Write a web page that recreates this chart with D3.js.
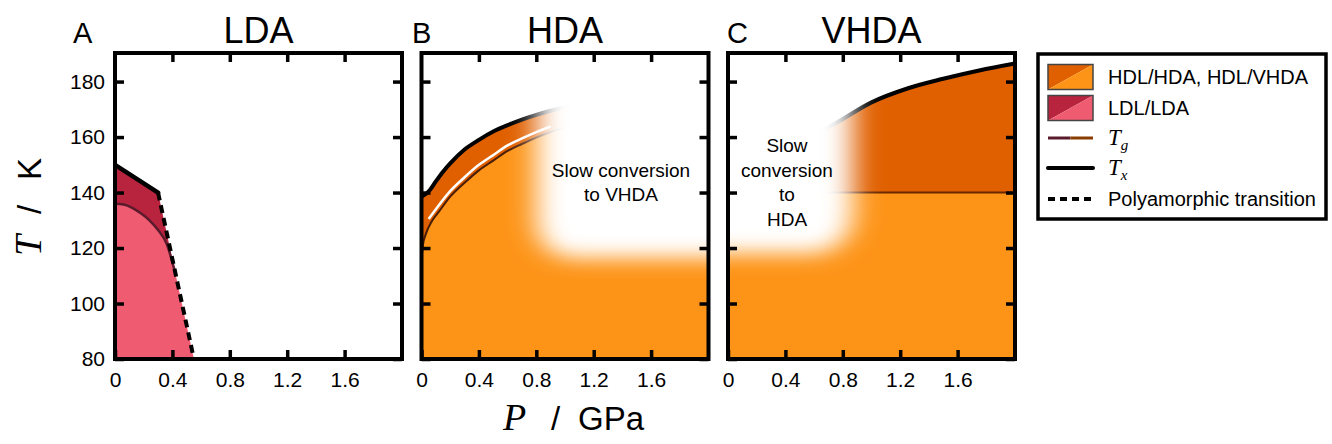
<!DOCTYPE html>
<html>
<head>
<meta charset="utf-8">
<script src="https://cdn.jsdelivr.net/npm/d3@7"></script>
<style>
  body { margin: 0; background: #fff; }
  svg { display: block; font-family: "Liberation Sans", Arial, sans-serif; }
</style>
</head>
<body>
<svg id="chart" width="1332" height="444"></svg>
<script>
// ---- data ----
const panelNames = ["LDA", "HDA", "VHDA"];
const panelLetters = ["A", "B", "C"];
const pTicks = [0, 0.4, 0.8, 1.2, 1.6];
const tTicks = [80, 100, 120, 140, 160, 180];

// LDA panel (P in GPa, T in K)
const ldaTx = [[0, 150], [0.3, 140]];
const ldaPoly = [[0.3, 140], [0.55, 80]];
const ldaTg = [[0, 136], [0.06, 135.7], [0.12, 134.5], [0.18, 132.5], [0.24, 130], [0.3, 126.5], [0.36, 121.5], [0.42, 111]];

// HDA panel
const hdaTx = [[0, 138.5], [0.03, 139.5], [0.06, 141], [0.1, 144], [0.15, 147.5], [0.2, 150.5], [0.3, 155.5], [0.4, 159],
  [0.5, 162], [0.6, 164.3], [0.7, 166.3], [0.8, 168], [0.9, 169.5], [1.0, 170.8], [1.2, 173], [1.6, 177], [2.0, 180]];
const hdaTg = [[0, 116], [0.01, 121], [0.03, 125], [0.07, 129.5], [0.12, 133], [0.2, 138.5], [0.3, 143.5], [0.4, 148],
  [0.5, 151.5], [0.6, 155], [0.7, 157.5], [0.8, 159.8], [0.9, 161.8], [1.0, 163.5], [1.2, 166], [1.6, 170], [2.0, 173]];
const hdaGlint = [[0.05, 130.5], [0.1, 134], [0.2, 140.5], [0.3, 145.5], [0.4, 150], [0.5, 153.5], [0.6, 157], [0.7, 159.5], [0.8, 161.8], [0.9, 163.8]];
const hdaSlow = { pFrom: 0.8, tBelow: 116.4 };   // white "slow conversion" zone
const hdaNote = ["Slow conversion", "to VHDA"];

// VHDA panel
const vhdaTx = [[0.6, 161], [0.75, 165], [1.0, 172.5], [1.25, 177.5], [1.5, 181], [1.75, 184], [2.0, 186.5]];
const vhdaTg = [[0, 140], [2, 140]];
const vhdaSlow = { pTo: 0.87, tBelow: 118 };
const vhdaNote = ["Slow", "conversion", "to", "HDA"];

const legendLabels = ["HDL/HDA, HDL/VHDA", "LDL/LDA", "Tg", "Tx", "Polyamorphic transition"];

// ---- colours ----
const lightOrange = "#fd9418", darkOrange = "#e06000";
const pink = "#ef5b70", darkRed = "#b8233e";
const tgRed = "#5b1a2c", tgBrown = "#4a1e06", tgLegendBrown = "#8b3c00";

// ---- layout ----
const W = 287, H = 306, plotTop = 53;
const lefts = [115, 421.5, 728];
const letterX = [73, 412, 727];

const svg = d3.select("#chart");
const defs = svg.append("defs");
const blur = defs.append("filter").attr("id", "soft")
  .attr("x", "-50%").attr("y", "-50%").attr("width", "200%").attr("height", "200%");
blur.append("feGaussianBlur").attr("stdDeviation", "14 10");

const x = d3.scaleLinear().domain([0, 2]).range([0, W]);
const y = d3.scaleLinear().domain([80, 190.3]).range([H, 0]);
const line = d3.line().x(d => x(d[0])).y(d => y(d[1]));
const curve = d3.line().curve(d3.curveMonotoneX).x(d => x(d[0])).y(d => y(d[1]));

panelNames.forEach((name, i) => {
  const g = svg.append("g").attr("transform", `translate(${lefts[i]},${plotTop})`);
  defs.append("clipPath").attr("id", "clip" + i)
    .append("rect").attr("width", W).attr("height", H);
  const c = g.append("g").attr("clip-path", `url(#clip${i})`);

  if (i === 0) {
    const tgEnd = ldaTg[ldaTg.length - 1];
    const dark = ldaTx.concat([tgEnd], ldaTg.slice().reverse());
    c.append("path").attr("d", line(dark) + "Z").attr("fill", darkRed);
    c.append("path").attr("d", curve(ldaTg) + line([ldaPoly[1], [0, 80]]).replace(/^M/, "L") + "Z").attr("fill", pink);
    c.append("path").attr("d", curve(ldaTg)).attr("fill", "none").attr("stroke", tgRed).attr("stroke-width", 2.5);
    c.append("path").attr("d", line(ldaTx)).attr("fill", "none").attr("stroke", "#000").attr("stroke-width", 4.5).attr("stroke-linecap", "round");
    c.append("path").attr("d", line(ldaPoly)).attr("fill", "none").attr("stroke", "#000").attr("stroke-width", 4).attr("stroke-dasharray", "8,5");
  }

  if (i === 1) {
    const under = d3.area().curve(d3.curveMonotoneX).x(d => x(d[0])).y0(y(80)).y1(d => y(d[1]));
    c.append("path").attr("d", under(hdaTg)).attr("fill", lightOrange);
    c.append("path").attr("d", curve(hdaTx) + curve(hdaTg.slice().reverse()).replace(/^M/, "L") + "Z").attr("fill", darkOrange);
    c.append("path").attr("d", curve(hdaGlint)).attr("fill", "none").attr("stroke", "#fff").attr("stroke-width", 2.5);
    c.append("path").attr("d", curve(hdaTg)).attr("fill", "none").attr("stroke", tgBrown).attr("stroke-width", 2);
    c.append("path").attr("d", curve(hdaTx)).attr("fill", "none").attr("stroke", "#000").attr("stroke-width", 4);
    c.append("rect").attr("filter", "url(#soft)").attr("fill", "#fff")
      .attr("x", x(hdaSlow.pFrom)).attr("y", -80)
      .attr("width", W - x(hdaSlow.pFrom) + 80).attr("height", y(hdaSlow.tBelow) + 80).attr("rx", 36);
    const t = g.append("text").attr("text-anchor", "middle").attr("font-size", 19);
    hdaNote.forEach((s, k) => t.append("tspan").attr("x", 199.5).attr("y", 124 + k * 24).text(s));
  }

  if (i === 2) {
    const under = d3.area().x(d => x(d[0])).y0(y(80)).y1(d => y(d[1]));
    c.append("path").attr("d", under(vhdaTg)).attr("fill", lightOrange);
    const over = d3.area().curve(d3.curveMonotoneX).x(d => x(d[0])).y0(y(vhdaTg[0][1])).y1(d => y(d[1]));
    c.append("path").attr("d", over(vhdaTx)).attr("fill", darkOrange);
    c.append("path").attr("d", line(vhdaTg)).attr("fill", "none").attr("stroke", "#6a2800").attr("stroke-width", 2);
    c.append("path").attr("d", curve(vhdaTx)).attr("fill", "none").attr("stroke", "#000").attr("stroke-width", 4);
    c.append("rect").attr("filter", "url(#soft)").attr("fill", "#fff")
      .attr("x", -80).attr("y", -80)
      .attr("width", x(vhdaSlow.pTo) + 80).attr("height", y(vhdaSlow.tBelow) + 80).attr("rx", 40);
    const t = g.append("text").attr("text-anchor", "middle").attr("font-size", 19);
    vhdaNote.forEach((s, k) => t.append("tspan").attr("x", 59).attr("y", 99 + k * 24.5).text(s));
  }

  // axes: inward ticks on all four sides
  const styleAxis = sel => {
    sel.select(".domain").remove();
    sel.selectAll(".tick line").attr("stroke", "#000").attr("stroke-width", 3.5);
    sel.selectAll(".tick text").attr("fill", "#000").attr("font-size", 21)
      .attr("font-family", "'Liberation Sans', Arial, sans-serif");
  };
  g.append("g").attr("transform", `translate(0,${H})`)
    .call(d3.axisBottom(x).tickValues(pTicks).tickSizeInner(-9).tickSizeOuter(0).tickPadding(13)
      .tickFormat(d => d === 0 ? "0" : d3.format(".1f")(d)))
    .call(styleAxis);
  g.append("g")
    .call(d3.axisTop(x).tickValues(pTicks.slice(1)).tickSizeInner(-9).tickSizeOuter(0).tickFormat(""))
    .call(styleAxis);
  g.append("g")
    .call(d3.axisLeft(y).tickValues(tTicks).tickSizeInner(-9).tickSizeOuter(0).tickPadding(10)
      .tickFormat(i === 0 ? d3.format("d") : ""))
    .call(styleAxis);
  g.append("g").attr("transform", `translate(${W},0)`)
    .call(d3.axisRight(y).tickValues(tTicks).tickSizeInner(-9).tickSizeOuter(0).tickFormat(""))
    .call(styleAxis);

  g.append("rect").attr("width", W).attr("height", H)
    .attr("fill", "none").attr("stroke", "#000").attr("stroke-width", 4);

  svg.append("text").attr("x", lefts[i] + W / 2).attr("y", 43).attr("text-anchor", "middle")
    .attr("font-size", 36).text(name);
  svg.append("text").attr("x", letterX[i]).attr("y", 43).attr("font-size", 29).text(panelLetters[i]);
});

// axis titles
const xl = svg.append("text").attr("y", 430).attr("font-size", 33);
xl.append("tspan").attr("x", 503).attr("font-family", "'Liberation Serif', serif").attr("font-style", "italic").attr("font-size", 38).text("P");
xl.append("tspan").attr("x", 551).text("/");
xl.append("tspan").attr("x", 578).text("GPa");

const yl = svg.append("text").attr("transform", "translate(41,0) rotate(-90)").attr("font-size", 33);
yl.append("tspan").attr("x", -256).attr("font-family", "'Liberation Serif', serif").attr("font-style", "italic").attr("font-size", 38).text("T");
yl.append("tspan").attr("x", -214).text("/");
yl.append("tspan").attr("x", -180).text("K");

// legend
const lg = svg.append("g").attr("transform", "translate(1038,54)");
lg.append("rect").attr("width", 288).attr("height", 165).attr("fill", "#fff")
  .attr("stroke", "#000").attr("stroke-width", 3.5);
const rowY = [23, 54, 84, 114, 145];
const patches = [[darkOrange, lightOrange], [darkRed, pink]];
patches.forEach((cols, k) => {
  const py = rowY[k] - 12.5, px = 10, pw = 45, ph = 25;
  lg.append("path").attr("d", `M${px},${py}H${px + pw}L${px},${py + ph}Z`).attr("fill", cols[0]);
  lg.append("path").attr("d", `M${px + pw},${py}V${py + ph}H${px}Z`).attr("fill", cols[1]);
  lg.append("rect").attr("x", px).attr("y", py).attr("width", pw).attr("height", ph)
    .attr("fill", "none").attr("stroke", "#444").attr("stroke-width", 1.5);
});
lg.append("line").attr("x1", 10).attr("x2", 32.5).attr("y1", rowY[2]).attr("y2", rowY[2]).attr("stroke", tgRed).attr("stroke-width", 3);
lg.append("line").attr("x1", 32.5).attr("x2", 55).attr("y1", rowY[2]).attr("y2", rowY[2]).attr("stroke", tgLegendBrown).attr("stroke-width", 3);
lg.append("line").attr("x1", 10).attr("x2", 55).attr("y1", rowY[3]).attr("y2", rowY[3]).attr("stroke", "#000").attr("stroke-width", 4).attr("stroke-linecap", "round");
lg.append("line").attr("x1", 10).attr("x2", 55).attr("y1", rowY[4]).attr("y2", rowY[4]).attr("stroke", "#000").attr("stroke-width", 4).attr("stroke-dasharray", "7,5");

legendLabels.forEach((s, k) => {
  const t = lg.append("text").attr("x", 70).attr("y", rowY[k] + 7).attr("font-size", 20);
  if (k === 2 || k === 3) {
    t.append("tspan").attr("font-family", "'Liberation Serif', serif").attr("font-style", "italic").attr("font-size", 23).text(s[0]);
    t.append("tspan").attr("font-family", "'Liberation Serif', serif").attr("font-style", "italic").attr("font-size", 15).attr("dy", 5).text(s[1]);
  } else {
    t.text(s);
  }
});
</script>
</body>
</html>
